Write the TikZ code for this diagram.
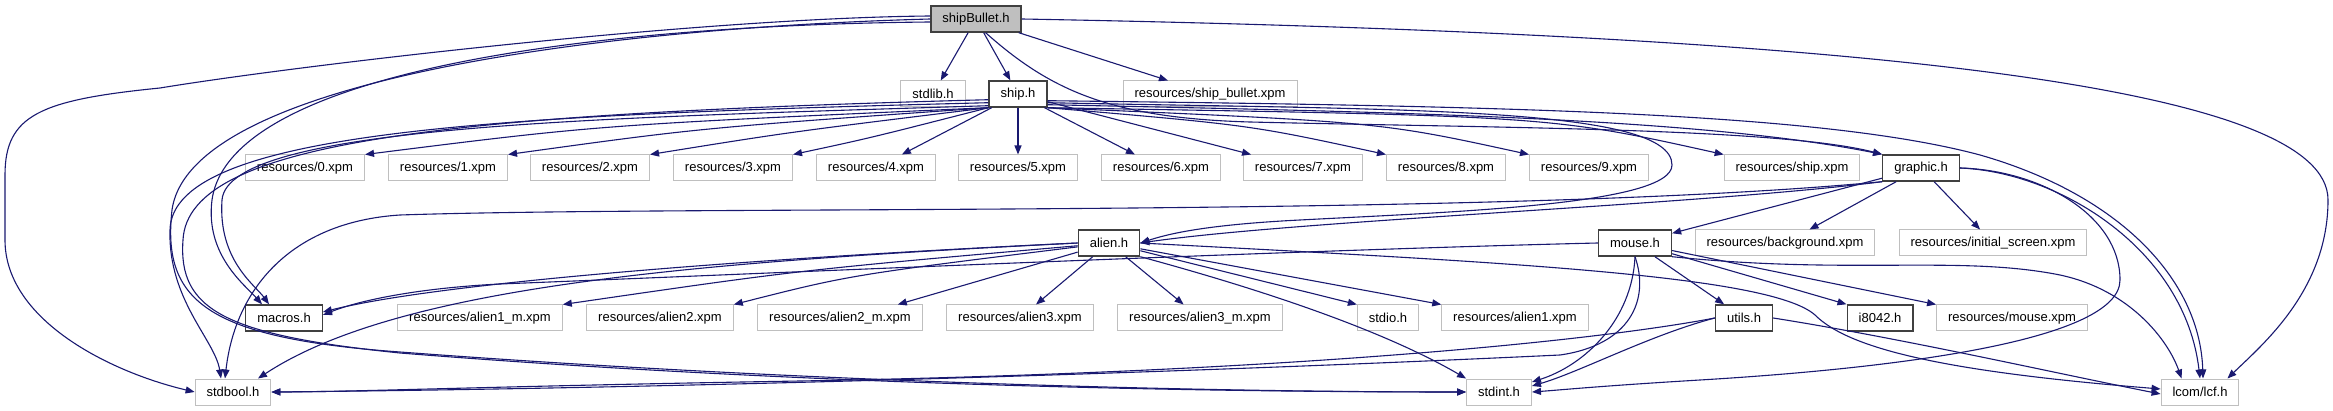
\documentclass[tikz,border=0pt]{standalone}
\usepackage{fontspec}
\setmainfont{Liberation Sans}
\usetikzlibrary{arrows.meta}
\definecolor{figE}{RGB}{25,25,112}
\definecolor{figG}{RGB}{191,191,191}
\definecolor{figK}{RGB}{64,64,64}

\begin{document}
\begin{tikzpicture}[x=1pt,y=-1pt,>={Triangle[length=9pt,width=7pt]},
  file/.style={draw=figG,line width=1pt,fill=white,minimum height=26pt,inner xsep=11.5pt,inner ysep=0pt,font=\fontsize{13}{15}\selectfont},
  doc/.style={file,draw=figK,line width=1.4pt},
  dep/.style={->,figE,line width=1.1pt}]
\useasboundingbox (0,0) rectangle (2333,411);
% include graph of shipBullet.h, rows at y = 19, 94, 168, 243, 318, 392
\node[doc,fill=figG] (shipbullet) at (976,19) {shipBullet.h};
\node[file] (stdlib) at (933,94) {stdlib.h};
\node[doc] (ship) at (1018,94) {ship.h};
\node[file] (shipbulletxpm) at (1210,94) {resources/ship\_bullet.xpm};
\foreach \i/\x in {0/305,1/448,2/590,3/733,4/876,5/1018,6/1161,7/1303,8/1446,9/1589}
  \node[file] (xpm\i) at (\x,168) {resources/\i.xpm};
\node[file] (shipxpm) at (1792,168) {resources/ship.xpm};
\node[doc] (graphic) at (1921,168) {graphic.h};
\node[doc] (alien) at (1109,243) {alien.h};
\node[doc] (mouse) at (1635,243) {mouse.h};
\node[file] (bgxpm) at (1785,243) {resources/background.xpm};
\node[file] (initxpm) at (1993,243) {resources/initial\_screen.xpm};
\node[doc] (macros) at (284,318) {macros.h};
\node[file] (alienonem) at (480,318) {resources/alien1\_m.xpm};
\node[file] (alientwo) at (660,318) {resources/alien2.xpm};
\node[file] (alientwom) at (840,318) {resources/alien2\_m.xpm};
\node[file] (alienthree) at (1020,318) {resources/alien3.xpm};
\node[file] (alienthreem) at (1200,318) {resources/alien3\_m.xpm};
\node[file] (stdio) at (1388,318) {stdio.h};
\node[file] (alienone) at (1515,318) {resources/alien1.xpm};
\node[doc] (utils) at (1744,318) {utils.h};
\node[doc] (ieight) at (1880,318) {i8042.h};
\node[file] (mousexpm) at (2012,318) {resources/mouse.xpm};
\node[file] (stdbool) at (233,392) {stdbool.h};
\node[file] (stdint) at (1499,392) {stdint.h};
\node[file] (lcf) at (2200,392) {lcom/lcf.h};
% shipBullet.h
\draw[dep] (shipbullet) -- (stdlib);
\draw[dep] (shipbullet) -- (ship);
\draw[dep] (shipbullet) -- (shipbulletxpm);
\draw[dep] (shipbullet.-55) .. controls (1050,90) and (1110,118) .. (1250,122) .. controls (1500,128) and (1780,128) .. (graphic.north west);
\draw[dep] (shipbullet.east) .. controls (1900,35) and (2328,90) .. (2328,200) .. controls (2328,290) and (2262,345) .. ([xshift=-12pt]lcf.north east);
\draw[dep] ([yshift=3pt]shipbullet.west) .. controls (700,18) and (300,65) .. (160,88) .. controls (40,100) and (5,115) .. (5,175) -- (5,240) .. controls (5,320) and (110,372) .. (stdbool.west);
\draw[dep] ([yshift=-3pt]shipbullet.west) .. controls (600,25) and (230,70) .. (212,200) .. controls (205,255) and (245,285) .. ([xshift=-22pt]macros.north);
\draw[dep] (shipbullet.west) .. controls (600,28) and (190,80) .. (172,210) .. controls (162,300) and (205,338) .. (400,352) .. controls (800,382) and (1200,392) .. (stdint.west);
% ship.h
\draw[dep] (ship.south west) .. controls (600,125) .. (xpm0.north east);
\draw[dep] (ship.south west) .. controls (700,128) .. (xpm1.north east);
\draw[dep] (ship.south west) .. controls (790,132) .. (xpm2.north east);
\draw[dep] (ship.south west) .. controls (870,138) .. (xpm3.north east);
\foreach \i in {4,5,6,7} \draw[dep] (ship) -- (xpm\i);
\draw[dep] (ship.south east) .. controls (1250,125) .. (xpm8.north west);
\draw[dep] (ship.south east) .. controls (1380,122) .. (xpm9.north west);
\draw[dep] (ship.south east) .. controls (1550,116) .. (shipxpm.north west);
\draw[dep] ([yshift=3pt]ship.south east) .. controls (1400,112) and (1700,118) .. (graphic.north west);
\draw[dep] ([yshift=5pt]ship.south east) .. controls (1400,110) and (1672,106) .. (1672,165) .. controls (1672,205) and (1450,212) .. (1300,220) .. controls (1200,225) and (1165,235) .. (alien.east);
\draw[dep] ([yshift=7pt]ship.south east) .. controls (1500,106) and (1820,112) .. (1980,155) .. controls (2120,195) and (2200,280) .. ([xshift=3pt]lcf.north);
\draw[dep] ([yshift=2pt]ship.south west) .. controls (600,118) and (228,125) .. (222,200) .. controls (218,260) and (255,285) .. ([xshift=-15pt]macros.north);
\draw[dep] ([yshift=5pt]ship.south west) .. controls (500,115) and (172,130) .. (170,230) .. controls (168,300) and (215,340) .. ([xshift=-12pt]stdbool.north);
\draw[dep] ([yshift=8pt]ship.south west) .. controls (450,114) and (188,140) .. (183,240) .. controls (178,310) and (225,335) .. (400,353) .. controls (800,385) and (1200,392) .. (stdint.west);
% graphic.h
\draw[dep] (graphic) -- (mouse);
\draw[dep] (graphic) -- (bgxpm);
\draw[dep] (graphic) -- (initxpm);
\draw[dep] (graphic.south west) .. controls (1700,205) and (1300,220) .. (alien.east);
\draw[dep] (graphic.south west) .. controls (1500,218) and (700,205) .. (400,215) .. controls (290,222) and (235,290) .. ([xshift=-8pt]stdbool.north);
\draw[dep] (graphic.east) .. controls (2060,172) and (2185,250) .. (lcf.north);
\draw[dep] (graphic.east) .. controls (2040,170) and (2120,215) .. (2120,280) .. controls (2120,340) and (1900,368) .. (1700,380) .. controls (1600,386) and (1560,390) .. (stdint.east);
% alien.h
\draw[dep] (alien.west) .. controls (800,256) and (450,280) .. ([yshift=6pt]macros.east);
\draw[dep] (alien) .. controls (800,270) .. (alienonem.north east);
\draw[dep] (alien) .. controls (850,275) .. (alientwo.north east);
\draw[dep] (alien) -- ([xshift=-25pt]alientwom.north east);
\draw[dep] (alien) -- (alienthree);
\draw[dep] (alien) -- (alienthreem);
\draw[dep] (alien) -- (stdio.north west);
\draw[dep] (alien) -- (alienone.north west);
\draw[dep] (alien.south east) .. controls (1300,300) and (1400,340) .. (stdint.north west);
\draw[dep] (alien.west) .. controls (700,262) and (400,285) .. ([xshift=25pt]stdbool.north);
\draw[dep] (alien.east) .. controls (1500,262) and (1770,275) .. (1815,315) .. controls (1850,350) and (1950,372) .. ([yshift=3pt]lcf.west);
% mouse.h
\draw[dep] (mouse) -- (utils);
\draw[dep] (mouse) -- (ieight.north west);
\draw[dep] (mouse) -- (mousexpm.north west);
\draw[dep] (mouse.south east) .. controls (1850,275) and (1960,255) .. (2060,275) .. controls (2130,290) and (2168,340) .. ([xshift=21pt]lcf.north west);
\draw[dep] (mouse.south) .. controls (1632,320) and (1585,365) .. ([yshift=10pt]stdint.east);
\draw[dep] (mouse.south) .. controls (1650,300) and (1630,345) .. (1560,355) .. controls (1200,372) and (700,388) .. (stdbool.east);
\draw[dep] (mouse.west) .. controls (1300,250) and (800,272) .. (500,284) .. controls (420,288) and (360,300) .. ([yshift=3pt]macros.east);
% utils.h
\draw[dep] (utils.east) .. controls (1900,338) and (2050,372) .. ([yshift=-2pt]lcf.west);
\draw[dep] (utils.west) .. controls (1650,335) and (1580,372) .. ([yshift=6pt]stdint.east);
\draw[dep] (utils.west) .. controls (1600,340) and (1300,372) .. (800,381) .. controls (500,386) and (350,392) .. (stdbool.east);
\end{tikzpicture}
\end{document}
